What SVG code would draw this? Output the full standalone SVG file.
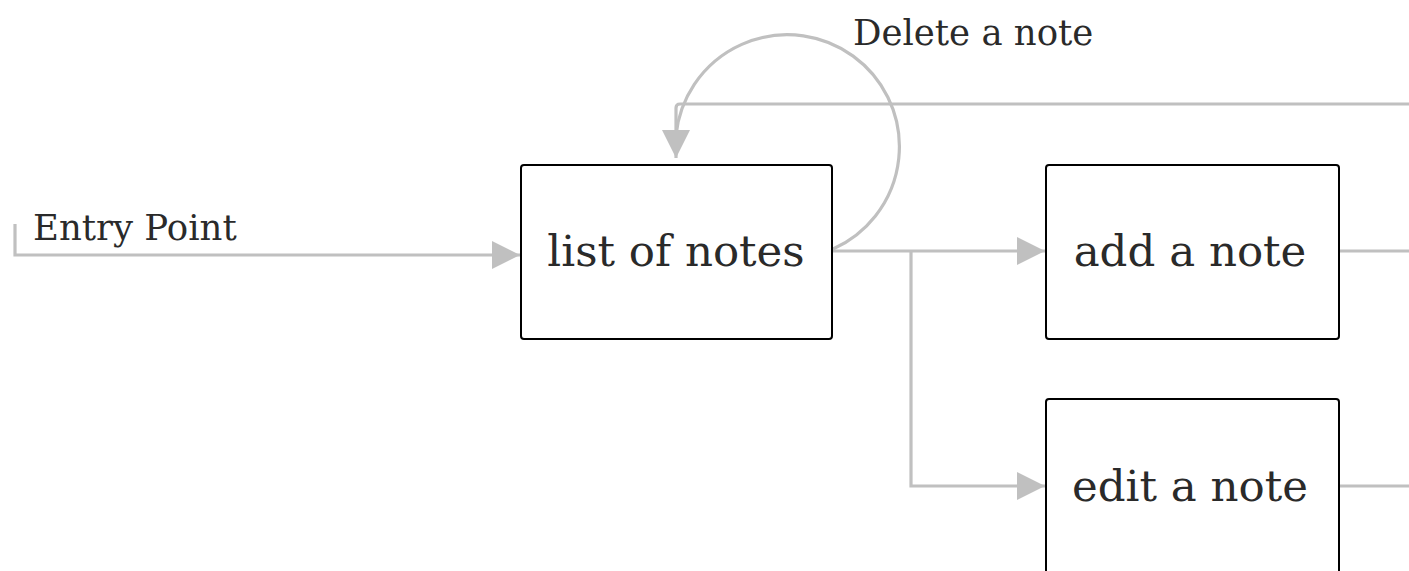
<svg xmlns="http://www.w3.org/2000/svg" width="1409" height="571" viewBox="0 0 1409 571">
<defs>
<style>
.node rect{fill:#fff;stroke:#000;stroke-width:2}
.node text{font-family:"DejaVu Serif",serif;font-size:43.5px;fill:#2a2a2a;text-anchor:middle}
.lbl{font-family:"DejaVu Serif",serif;font-size:35.5px;fill:#2a2a2a}
.conn path{fill:none;stroke:#c0c0c0;stroke-width:3.2}
</style>
<marker id="arr" viewBox="0 0 28 28" refX="28" refY="14" markerWidth="28" markerHeight="28" markerUnits="userSpaceOnUse" orient="auto">
<path d="M0,0 L28,14 L0,28 Z" fill="#c0c0c0"/>
</marker>
</defs>
<rect width="1409" height="571" fill="#fff"/>
<g id="connectors" class="conn">
<path d="M15,224 V255 H520" marker-end="url(#arr)"/>
<path d="M1409,104 H680 Q676,104 676,108 V158" marker-end="url(#arr)"/>
<path d="M833,249 A112,112 0 1 0 676,135"/>
<path d="M833,251 H1045" marker-end="url(#arr)"/>
<path d="M911,251 V486 H1045" marker-end="url(#arr)"/>
<path d="M1340,251 H1409"/>
<path d="M1340,486 H1409"/>
</g>
<g id="list">
<g class="node"><rect x="521" y="165" width="311" height="174" rx="3"/><text x="676" y="266">list of notes</text></g>
</g>
<g id="add">
<g class="node"><rect x="1046" y="165" width="293" height="174" rx="3"/><text x="1190" y="266">add a note</text></g>
</g>
<g id="edit">
<g class="node"><rect x="1046" y="399" width="293" height="190" rx="3"/><text x="1190" y="501">edit a note</text></g>
</g>
<g id="labels">
<text class="lbl" x="33" y="240">Entry Point</text>
<text class="lbl" x="853" y="45">Delete a note</text>
</g>
</svg>
